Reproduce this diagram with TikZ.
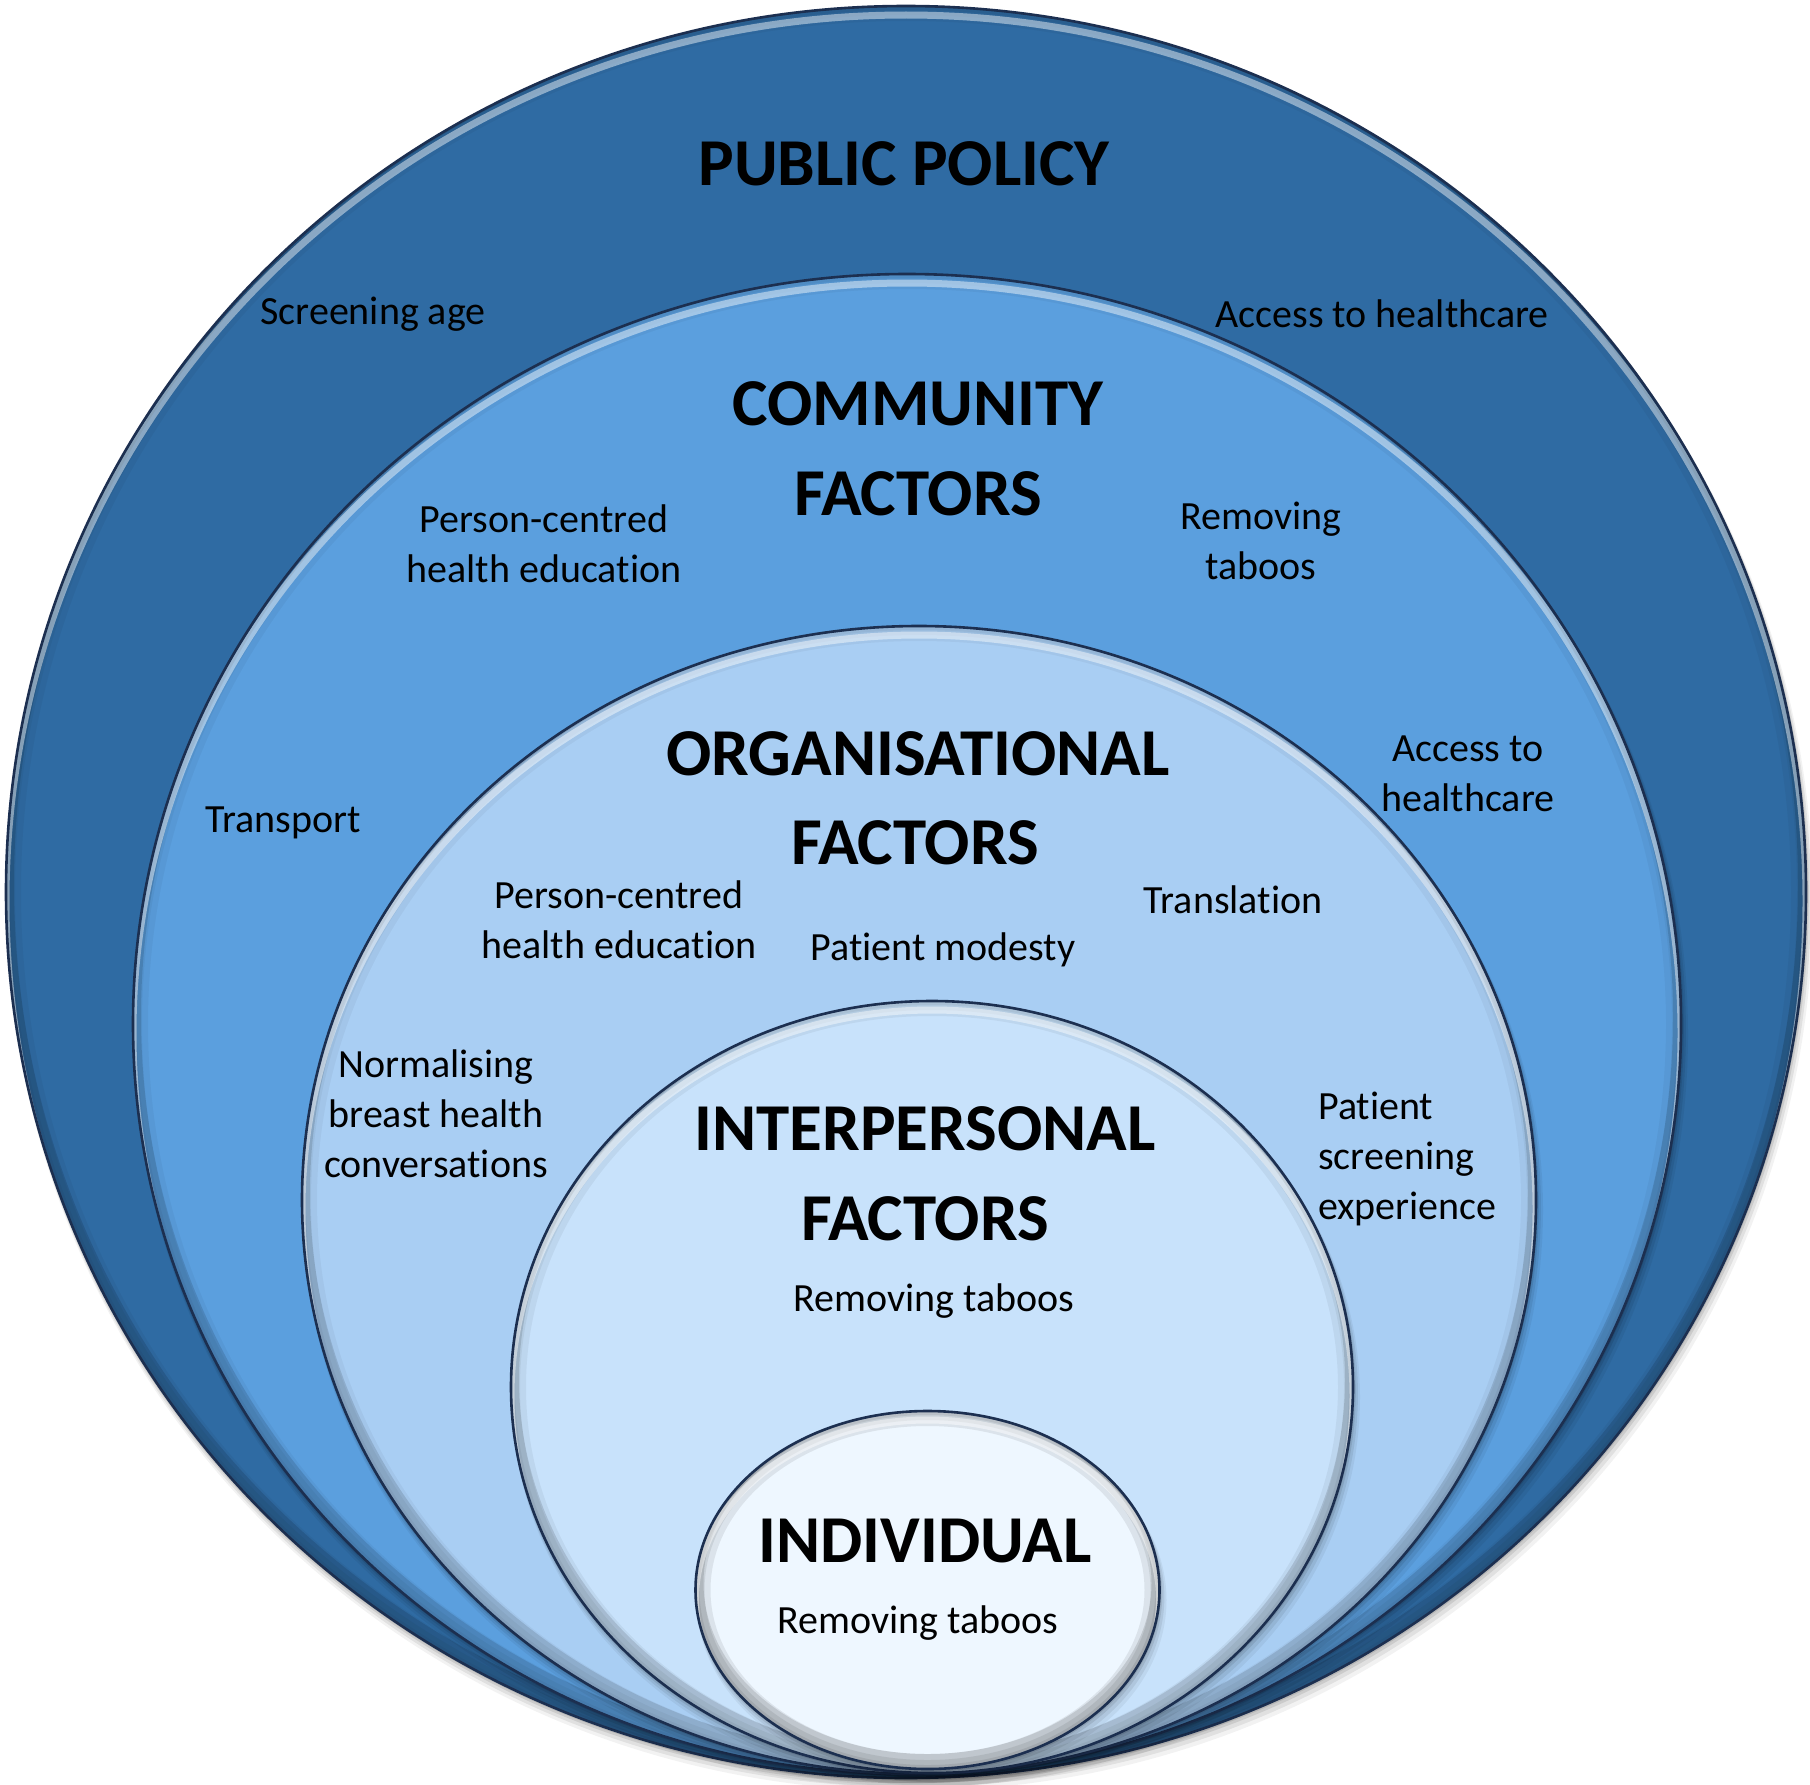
\documentclass[tikz,border=0pt]{standalone}
\usepackage{fontspec}
\setmainfont{Carlito}[Ligatures={NoCommon}]
\definecolor{cpolicy}{HTML}{2F6BA3}
\definecolor{ccomm}{HTML}{5B9FDE}
\definecolor{corg}{HTML}{A9CEF3}
\definecolor{cinter}{HTML}{C8E2FB}
\definecolor{cindiv}{HTML}{EEF7FF}
\definecolor{cline}{HTML}{1C2F50}
\tikzset{
  ringline/.style={draw=cline,line width=2.6},
  head/.style={font=\fontsize{67}{80}\selectfont\bfseries,inner sep=0},
  lbl/.style={font=\fontsize{40}{50}\selectfont,align=center,inner sep=0},
}
\newcommand\myring[6]{%
  \foreach \kk/\oo in {10/0.05,7/0.07,4/0.09,2/0.1}{%
    \fill[black,opacity=\oo] (#1+\kk*0.4,#2+\kk) ellipse [x radius=#3+\kk*0.3, y radius=#4+\kk*0.3];}
  \fill[#5] (#1,#2) ellipse [x radius=#3,y radius=#4];
  \begin{scope}
    \clip (#1,#2) ellipse [x radius=#3,y radius=#4];
    \draw[black,opacity=#6,line width=30] (#1,#2) ellipse [x radius=#3,y radius=#4];
    \draw[black,opacity=#6,line width=18] (#1,#2) ellipse [x radius=#3,y radius=#4];
    \draw[black,opacity=#6,line width=8] (#1,#2) ellipse [x radius=#3,y radius=#4];
    \draw[black,opacity=0.12,line width=16] (#1,#2-7) ellipse [x radius=#3,y radius=#4];
    \draw[white,opacity=0.45,line width=7] (#1,#2+9) ellipse [x radius=#3,y radius=#4];
  \end{scope}
  \draw[ringline] (#1,#2) ellipse [x radius=#3,y radius=#4];
}
\begin{document}
\begin{tikzpicture}[x=1pt,y=-1pt]
\useasboundingbox (0,0) rectangle (1810,1785);
\fill[white] (0,0) rectangle (1810,1785);

\myring{906}{892}{900}{886}{cpolicy}{0.04}
\myring{907}{1024}{774}{750}{ccomm}{0.04}
\myring{919}{1200}{617}{574}{corg}{0.04}
\myring{932}{1387}{421}{386}{cinter}{0.05}
\myring{927.5}{1590}{232}{179}{cindiv}{0.08}

% Public policy
\node[head] (pp) at (904,164) {PUBLIC POLICY};
\node[lbl] (ppa) at (373,314) {Screening age};
\node[lbl] (ppb) at (1382,314) {Access to healthcare};

% Community
\node[head] (cf1) at (918,404) {COMMUNITY};
\node[head] (cf2) at (918,494) {FACTORS};
\node[lbl] (cfa) at (544,544) {Person-centred\\health education};
\node[lbl] (cfb) at (1261,541) {Removing\\taboos};
\node[lbl] (cfc) at (283,823) {Transport};
\node[lbl] (cfd) at (1468,774) {Access to\\healthcare};

% Organisational
\node[head] (of1) at (918,754) {ORGANISATIONAL};
\node[head] (of2) at (915,843) {FACTORS};
\node[lbl] (ofa) at (619,920) {Person-centred\\health education};
\node[lbl] (ofb) at (943,950) {Patient modesty};
\node[lbl] (ofc) at (1233,900) {Translation};
\node[lbl] (ofd) at (436,1114) {Normalising\\breast health\\conversations};
\node[lbl,anchor=west,align=left] (ofe) at (1318,1159) {Patient\\screening\\experience};

% Interpersonal
\node[head] (if1) at (925,1129) {INTERPERSONAL};
\node[head] (if2) at (925,1219) {FACTORS};
\node[lbl] (ifa) at (934,1301) {Removing taboos};

% Individual
\node[head] (in1) at (925,1541) {INDIVIDUAL};
\node[lbl] (ina) at (918,1623) {Removing taboos};
\end{tikzpicture}
\end{document}
